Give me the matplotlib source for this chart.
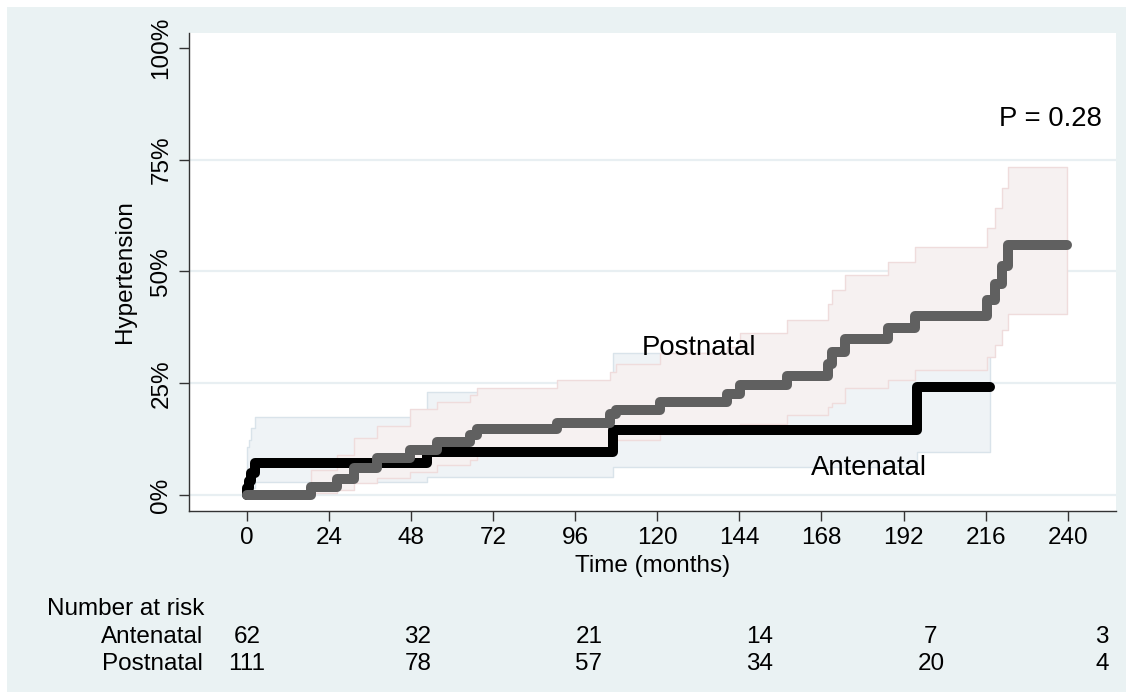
import matplotlib
matplotlib.use("Agg")
import matplotlib.pyplot as plt
from matplotlib.patches import Rectangle
from matplotlib.transforms import blended_transform_factory

plt.rcParams["font.family"] = ["Liberation Sans", "DejaVu Sans"]

# cumulative incidence of hypertension (%), Kaplan-Meier steps
ante_t = [0, 0, 0.5, 1.2, 2.5, 52.6, 107.2, 195.8, 217.3]
ante_s = [0, 1.6, 3.2, 4.9, 7.1, 9.7, 14.5, 24.1, 24.1]

ante_ci_t = [0, 0.5, 1.2, 2.5, 52.6, 107.2, 195.8, 217.3]
ante_lo = [0.2, 0.8, 1.6, 3.0, 4.1, 6.3, 9.7, 9.7]
ante_hi = [10.8, 12.3, 14.9, 17.5, 23.1, 31.7, 48.0, 48.0]

post_t = [0, 18.9, 26.3, 31.2, 38.0, 47.7, 55.5, 65.3, 67.2, 90.6, 106.2,
          108.0, 120.8, 140.3, 144.2, 157.8, 170.0, 171.0, 174.9, 187.5,
          195.4, 216.3, 218.7, 220.7, 222.6, 239.7]
post_s = [0, 1.9, 3.5, 6.0, 8.2, 10.1, 11.9, 13.4, 14.7, 16.2, 18.1,
          19.0, 20.7, 22.7, 24.6, 26.6, 29.4, 32.0, 34.8, 37.3,
          40.0, 43.6, 47.2, 51.2, 56.0, 56.0]

post_ci_t = post_t[1:]
post_lo = [0.5, 1.1, 2.6, 3.7, 5.2, 6.7, 7.8, 8.9, 10.0, 11.5, 12.3, 13.6,
           15.0, 16.0, 17.9, 19.7, 20.5, 23.9, 25.7, 27.9, 30.9, 33.5, 36.9,
           40.5, 40.5]
post_hi = [5.6, 8.9, 12.8, 15.5, 19.3, 20.9, 22.4, 23.9, 25.7, 27.6, 29.4,
           31.7, 33.0, 36.3, 39.1, 42.7, 45.8, 49.2, 52.2, 55.4, 59.8, 64.1,
           68.6, 73.3, 73.3]

# number at risk table
risk_t = [0, 50, 100, 150, 200, 250]
ante_risk = [62, 32, 21, 14, 7, 3]
post_risk = [111, 78, 57, 34, 20, 4]

x_ticks = [0, 24, 48, 72, 96, 120, 144, 168, 192, 216, 240]
y_ticks = [0, 25, 50, 75, 100]

BG = "#EAF2F3"
FS = 17.5
FS_IN = 19.8

fig = plt.figure(figsize=(11.33, 6.99), dpi=100)
fig.patch.set_facecolor("white")
fig.add_artist(Rectangle((7 / 1133, 7 / 699), 1 - 14 / 1133, 1 - 14 / 699,
                         transform=fig.transFigure, facecolor=BG,
                         edgecolor="none", zorder=-10))

ax = fig.add_axes([0.1668, 0.2694, 0.8182, 0.6838])
ax.set_facecolor("white")

for y in [0, 25, 50, 75]:
    ax.axhline(y, color="#E8EFF2", lw=1.6, zorder=0.5)

# confidence bands
ax.fill_between(ante_ci_t, ante_lo, ante_hi, step="post", facecolor="#EFF3F6",
                edgecolor="#D9E3EA", lw=1, zorder=1)
ax.fill_between(post_ci_t, post_lo, post_hi, step="post", facecolor="#F6F1F1",
                edgecolor="#EFDCDC", lw=1, zorder=2)

ax.plot(ante_t, ante_s, drawstyle="steps-post", color="black", lw=7.2,
        solid_capstyle="round", solid_joinstyle="round", zorder=3)
ax.plot(post_t, post_s, drawstyle="steps-post", color="#606060", lw=7.2,
        solid_capstyle="round", solid_joinstyle="round", zorder=4)

ax.text(235, 84, "P = 0.28", fontsize=FS_IN, ha="center", va="center")
ax.text(132.2, 32.9, "Postnatal", fontsize=FS_IN, ha="center", va="center")
ax.text(181.9, 6.0, "Antenatal", fontsize=FS_IN, ha="center", va="center")

ax.set_xlim(-16.9, 254.1)
ax.set_ylim(-3.5, 103.4)
ax.set_xticks(x_ticks)
ax.set_yticks(y_ticks)
ax.set_yticklabels([f"{v}%" for v in y_ticks], rotation=90, va="center")
ax.tick_params(labelsize=FS, length=7, width=1, color="#333333", pad=5)

for side in ["top", "right"]:
    ax.spines[side].set_visible(False)
for side in ["left", "bottom"]:
    ax.spines[side].set_color("#333333")
    ax.spines[side].set_linewidth(1)

ax.set_xlabel("Time (months)", fontsize=FS, labelpad=4)
ax.set_ylabel("Hypertension", fontsize=FS, labelpad=10)

# risk table below the axis
tr = blended_transform_factory(ax.transData, fig.transFigure)
fig.text(47 / 1133, 1 - 609 / 699, "Number at risk", fontsize=FS,
         ha="left", va="center")
fig.text(203 / 1133, 1 - 637 / 699, "Antenatal", fontsize=FS,
         ha="right", va="center")
fig.text(203 / 1133, 1 - 664 / 699, "Postnatal", fontsize=FS,
         ha="right", va="center")
for t, a, p in zip(risk_t, ante_risk, post_risk):
    ax.text(t, 1 - 637 / 699, str(a), transform=tr, fontsize=FS,
            ha="center", va="center", clip_on=False)
    ax.text(t, 1 - 664 / 699, str(p), transform=tr, fontsize=FS,
            ha="center", va="center", clip_on=False)

fig.savefig("out.png", dpi=100)
